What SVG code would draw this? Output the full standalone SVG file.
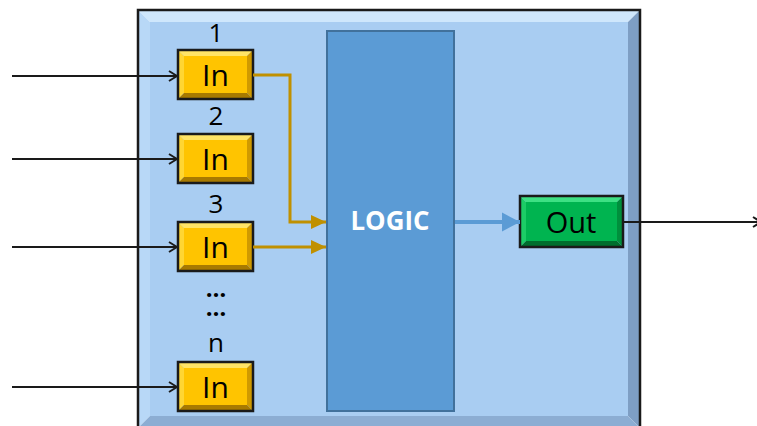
<svg xmlns="http://www.w3.org/2000/svg" xmlns:xlink="http://www.w3.org/1999/xlink" width="757" height="426" viewBox="0 0 757 426">
<style>
.lbl{font-family:"Open Sans","Liberation Sans",sans-serif;fill:#000;text-anchor:middle}
.num{font-size:26px}
.boxtxt{font-size:30px}
.logic{font-family:"Open Sans","Liberation Sans",sans-serif;font-weight:bold;font-size:26px;fill:#fff;text-anchor:middle}
.blk{stroke:#1a1a1a;stroke-width:2;fill:none}
.gold{stroke:#c09000;stroke-width:3;fill:none}
.blue{stroke:#5b9bd5;stroke-width:4;fill:none}
</style>
<defs>
<marker id="openArrow" markerWidth="10" markerHeight="12" refX="9" refY="6" orient="auto" markerUnits="userSpaceOnUse">
<path d="M1,1 L9,6 L1,11" fill="none" stroke="#1a1a1a" stroke-width="2"/>
</marker>
<marker id="goldArrow" markerWidth="16" markerHeight="16" refX="15" refY="8" orient="auto" markerUnits="userSpaceOnUse">
<path d="M0,1 L15,8 L0,15 Z" fill="#c09000"/>
</marker>
<marker id="blueArrow" markerWidth="18" markerHeight="20" refX="18" refY="10" orient="auto" markerUnits="userSpaceOnUse">
<path d="M0,0.5 L18,10 L0,19.5 Z" fill="#5b9bd5"/>
</marker>
<g id="inBox">
<rect x="6" y="6" width="63" height="37" fill="#ffc400"/>
<polygon points="0,0 75,0 69,6 6,6" fill="#ffe466"/>
<polygon points="0,0 6,6 6,43 0,49" fill="#ffd633"/>
<polygon points="75,0 75,49 69,43 69,6" fill="#d09a00"/>
<polygon points="0,49 75,49 69,43 6,43" fill="#a87a00"/>
<rect x="0" y="0" width="75" height="49" fill="none" stroke="#1a1a1a" stroke-width="2.5"/>
</g>
</defs>

<g id="container">
<rect x="150" y="22" width="478" height="394" fill="#a9cdf2"/>
<polygon points="138,10 640,10 628,22 150,22" fill="#cfe7fc"/>
<polygon points="138,10 150,22 150,416 138,428" fill="#b8d8f7"/>
<polygon points="640,10 640,428 628,416 628,22" fill="#7e9ec4"/>
<polygon points="138,428 640,428 628,416 150,416" fill="#8cadd3"/>
<rect x="138" y="10" width="502" height="418" fill="none" stroke="#1a1a1a" stroke-width="2.5"/>
</g>

<g id="logic">
<rect x="327" y="31" width="127" height="380" fill="#5b9bd5" stroke="#41719c" stroke-width="2"/>
<text class="logic" x="390" y="230" textLength="79" lengthAdjust="spacingAndGlyphs">LOGIC</text>
</g>

<g id="in1">
<use xlink:href="#inBox" x="178" y="50"/>
<text class="lbl boxtxt" x="215.5" y="86">In</text>
<text class="lbl num" x="216" y="42">1</text>
</g>
<g id="in2">
<use xlink:href="#inBox" x="178" y="134"/>
<text class="lbl boxtxt" x="215.5" y="170">In</text>
<text class="lbl num" x="216" y="125">2</text>
</g>
<g id="in3">
<use xlink:href="#inBox" x="178" y="222"/>
<text class="lbl boxtxt" x="215.5" y="258">In</text>
<text class="lbl num" x="216" y="213">3</text>
</g>
<g id="dots">
<text class="lbl" style="font-size:24px;font-weight:bold"><tspan x="216" y="297">…</tspan><tspan x="216" y="316">…</tspan></text>
</g>
<g id="inN">
<use xlink:href="#inBox" x="178" y="362"/>
<text class="lbl boxtxt" x="215.5" y="398">In</text>
<text class="lbl num" x="216" y="352">n</text>
</g>

<g id="out">
<rect x="526" y="202" width="91" height="39" fill="#00b450"/>
<polygon points="520,196 623,196 617,202 526,202" fill="#3ee084"/>
<polygon points="520,196 526,202 526,241 520,247" fill="#1ccc66"/>
<polygon points="623,196 623,247 617,241 617,202" fill="#008f3c"/>
<polygon points="520,247 623,247 617,241 526,241" fill="#006e2e"/>
<rect x="520" y="196" width="103" height="51" fill="none" stroke="#1a1a1a" stroke-width="2.5"/>
<text class="lbl" style="font-size:29px" x="571" y="233">Out</text>
</g>

<g id="connectors">
<line class="blk" x1="12" y1="76" x2="177" y2="76" marker-end="url(#openArrow)"/>
<line class="blk" x1="12" y1="159" x2="177" y2="159" marker-end="url(#openArrow)"/>
<line class="blk" x1="12" y1="247" x2="177" y2="247" marker-end="url(#openArrow)"/>
<line class="blk" x1="12" y1="387" x2="177" y2="387" marker-end="url(#openArrow)"/>
<polyline class="gold" points="253,75 290,75 290,222 326,222" marker-end="url(#goldArrow)"/>
<line class="gold" x1="253" y1="247" x2="326" y2="247" marker-end="url(#goldArrow)"/>
<line class="blue" x1="455" y1="222" x2="520" y2="222" marker-end="url(#blueArrow)"/>
<line class="blk" x1="623" y1="222" x2="761" y2="222" marker-end="url(#openArrow)"/>
</g>
</svg>
